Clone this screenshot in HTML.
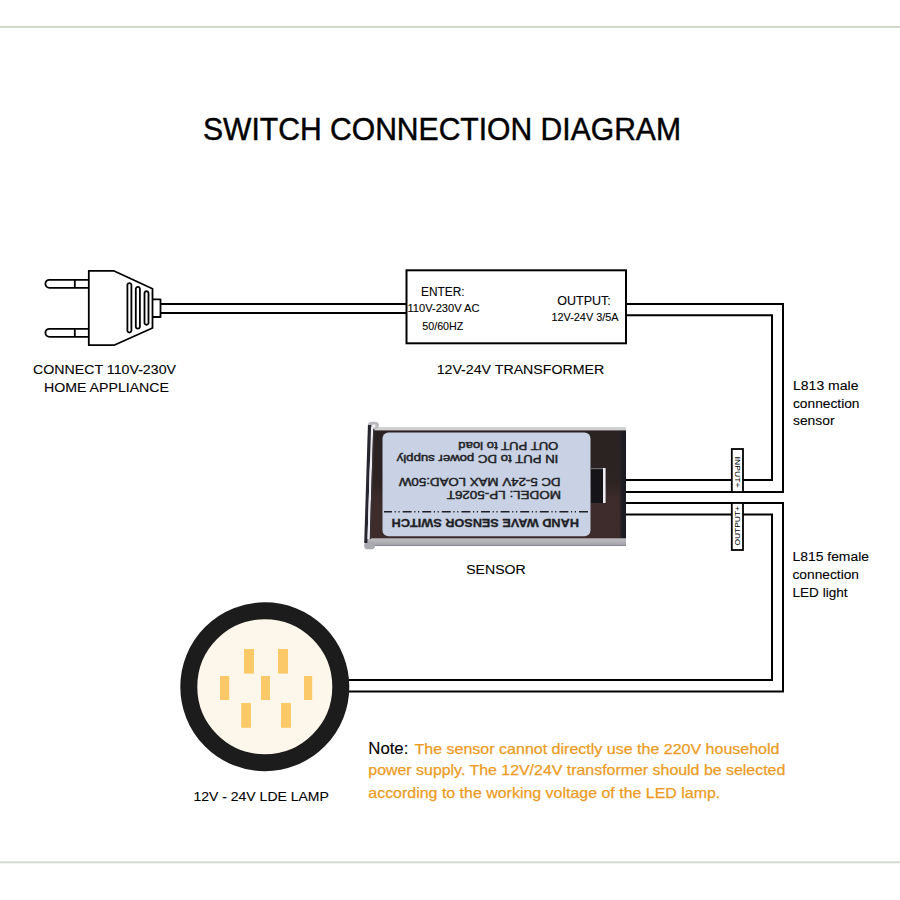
<!DOCTYPE html>
<html><head><meta charset="utf-8">
<style>
html,body{margin:0;padding:0;background:#fff;width:900px;height:900px;overflow:hidden}
svg{display:block}
text{font-family:"Liberation Sans",sans-serif}
.k{stroke:#000;stroke-width:0.1}
</style></head>
<body>
<svg width="900" height="900" viewBox="0 0 900 900">
<defs>
<linearGradient id="capg" x1="0" x2="1" y1="0" y2="0">
<stop offset="0" stop-color="#2a2424"/>
<stop offset="0.35" stop-color="#1c1818"/>
<stop offset="0.5" stop-color="#f4f4f6"/>
<stop offset="0.7" stop-color="#d8d8dc"/>
<stop offset="1" stop-color="#5a4a48"/>
</linearGradient>
<linearGradient id="topg" x1="0" x2="0" y1="0" y2="1">
<stop offset="0" stop-color="#e6e6e6"/>
<stop offset="0.5" stop-color="#b4b4b4"/>
<stop offset="1" stop-color="#3a3434"/>
</linearGradient>
<linearGradient id="botg" x1="0" x2="0" y1="0" y2="1">
<stop offset="0" stop-color="#bcbcc0"/>
<stop offset="0.6" stop-color="#aeaeb4"/>
<stop offset="1" stop-color="#9c9ca4"/>
</linearGradient>
<linearGradient id="bodyg" x1="0" x2="0" y1="0" y2="1">
<stop offset="0" stop-color="#2a2222"/>
<stop offset="0.45" stop-color="#2c2322"/>
<stop offset="0.6" stop-color="#3c2b2a"/>
<stop offset="1" stop-color="#3e2c2b"/>
</linearGradient>
<linearGradient id="rbandg" x1="0" x2="1" y1="0" y2="0">
<stop offset="0" stop-color="#2a2228" stop-opacity="0"/>
<stop offset="0.4" stop-color="#1e1d24"/>
<stop offset="1" stop-color="#1a1a20"/>
</linearGradient>
</defs>

<!-- separators -->
<rect x="0" y="26" width="900" height="2" fill="#cfd9c7"/>
<rect x="0" y="861.3" width="900" height="2" fill="#d3dccf"/>

<!-- title -->
<text class="k" style="stroke-width:0.45" x="203" y="140" font-size="31" textLength="478" lengthAdjust="spacingAndGlyphs" fill="#000">SWITCH CONNECTION DIAGRAM</text>

<!-- plug -->
<g fill="none" stroke="#000" stroke-width="1.8" stroke-linejoin="round">
<path d="M88.8 279.8 H49.4 A4 4 0 0 0 49.4 287.8 H88.8 M74.8 279.8 V287.8"/>
<path d="M88.8 328.8 H49.4 A4 4 0 0 0 49.4 336.8 H88.8 M74.8 328.8 V336.8"/>
<path d="M88.8 270.8 H113.6 L152.5 288.7 V328 L114 345.2 H88.8 Z"/>
<path d="M152.5 299.4 H160.5 V317 H152.5"/>
<path d="M127.4 284.5 A2.1 2.1 0 0 1 131.4 284.5 V331.1 A2.1 2.1 0 0 1 127.4 331.1 Z"/>
<path d="M135.8 288.6 A2.1 2.1 0 0 1 139.9 288.6 V327 A2.1 2.1 0 0 1 135.8 327 Z"/>
<path d="M144.5 292.7 A2.1 2.1 0 0 1 148.5 292.7 V323.3 A2.1 2.1 0 0 1 144.5 323.3 Z"/>
</g>
<!-- cord -->
<rect x="160.5" y="303" width="246" height="2" fill="#000"/>
<rect x="160.5" y="312" width="246" height="2" fill="#000"/>

<text class="k" x="33" y="374" font-size="13.7" textLength="143" lengthAdjust="spacingAndGlyphs">CONNECT 110V-230V</text>
<text class="k" x="44" y="391.7" font-size="13.7" textLength="125" lengthAdjust="spacingAndGlyphs">HOME APPLIANCE</text>

<!-- transformer -->
<rect x="406.5" y="270.3" width="219.5" height="73" fill="none" stroke="#000" stroke-width="2"/>
<text class="k" x="421" y="296" font-size="12" textLength="43.5" lengthAdjust="spacingAndGlyphs">ENTER:</text>
<text class="k" x="407.5" y="312.3" font-size="10.5" textLength="72" lengthAdjust="spacingAndGlyphs">110V-230V AC</text>
<text class="k" x="422.3" y="330" font-size="10.5" textLength="41" lengthAdjust="spacingAndGlyphs">50/60HZ</text>
<text class="k" x="557.3" y="304.5" font-size="12" textLength="53.5" lengthAdjust="spacingAndGlyphs">OUTPUT:</text>
<text class="k" x="551.5" y="321.2" font-size="10.5" textLength="67" lengthAdjust="spacingAndGlyphs">12V-24V 3/5A</text>
<text class="k" x="436.7" y="374" font-size="13.7" textLength="167.5" lengthAdjust="spacingAndGlyphs">12V-24V TRANSFORMER</text>

<!-- output wires upper loop -->
<path d="M626 304 H783 V492 H626" fill="none" stroke="#000" stroke-width="2"/>
<path d="M626 315.3 H772 V480 H626" fill="none" stroke="#000" stroke-width="2"/>
<!-- lower loop -->
<path d="M626 503 H783 V691.5 H349" fill="none" stroke="#000" stroke-width="2"/>
<path d="M626 514.5 H772 V680 H349" fill="none" stroke="#000" stroke-width="2"/>

<!-- input label -->
<rect x="731.8" y="449" width="11.2" height="43" fill="#fff" stroke="#000" stroke-width="1.8"/>
<text transform="translate(734.6 456.5) rotate(90)" font-size="8" stroke="#000" stroke-width="0.05" textLength="31" lengthAdjust="spacingAndGlyphs">INPUT+</text>
<!-- output label -->
<rect x="731.8" y="503" width="11.2" height="47" fill="#fff" stroke="#000" stroke-width="1.8"/>
<text transform="translate(740.2 545.5) rotate(-90)" font-size="8" stroke="#000" stroke-width="0.05" textLength="39.5" lengthAdjust="spacingAndGlyphs">OUTPUT+</text>

<text class="k" x="793" y="390" font-size="13.7" textLength="65.5" lengthAdjust="spacingAndGlyphs">L813 male</text>
<text class="k" x="793" y="407.8" font-size="13.7" textLength="66.5" lengthAdjust="spacingAndGlyphs">connection</text>
<text class="k" x="793" y="425.2" font-size="13.7" textLength="41.5" lengthAdjust="spacingAndGlyphs">sensor</text>

<text class="k" x="792.5" y="561.3" font-size="13.7" textLength="76.5" lengthAdjust="spacingAndGlyphs">L815 female</text>
<text class="k" x="792.5" y="578.9" font-size="13.7" textLength="66.5" lengthAdjust="spacingAndGlyphs">connection</text>
<text class="k" x="792.5" y="596.7" font-size="13.7" textLength="55" lengthAdjust="spacingAndGlyphs">LED light</text>

<!-- sensor -->
<g>
<rect x="370" y="427.8" width="256" height="118" fill="url(#bodyg)"/>
<rect x="370" y="427.8" width="256" height="2.6" fill="#cfd0d0"/>
<rect x="366" y="538.3" width="260" height="7.4" fill="url(#botg)"/>
<rect x="619" y="431" width="7" height="107" fill="url(#rbandg)"/>
<rect x="382.5" y="432.4" width="208" height="103.9" rx="6" fill="#c8d2e4"/>
<rect x="591" y="468" width="12" height="35" fill="#141419"/>
<rect x="591" y="468" width="12" height="1.2" fill="#6a6a70"/>
<rect x="603" y="468" width="2.6" height="35" fill="#ececf2"/>
<g transform="matrix(1 0 -0.0315 1 13.3 0)">
<rect x="368" y="421.7" width="11" height="7" rx="4" fill="#b9b9bd"/>
<rect x="372.5" y="424.5" width="3" height="3" fill="#f4f4f6"/>
<rect x="368" y="541.5" width="11" height="7.8" rx="4" fill="#a9a9b0"/>
<rect x="368" y="425" width="3.2" height="118" fill="#26262f"/>
<rect x="371.2" y="427" width="2.2" height="112" fill="#ececf2"/>
<rect x="373.4" y="429" width="1.3" height="110" fill="#3a3438"/>
</g>
</g>
<g transform="rotate(180 486 484.5)" fill="#1f1f26" stroke="#1f1f26" stroke-width="0.45">
<text x="413.7" y="526.8" font-size="11" textLength="100" lengthAdjust="spacingAndGlyphs">OUT PUT to load</text>
<text x="413.7" y="514" font-size="11" textLength="161.6" lengthAdjust="spacingAndGlyphs">IN PUT to DC power supply</text>
<text x="411.4" y="491.2" font-size="11" textLength="161.7" lengthAdjust="spacingAndGlyphs">DC 5-24V  MAX LOAD:50W</text>
<text x="411.1" y="478.4" font-size="11" textLength="114.2" lengthAdjust="spacingAndGlyphs">MODEL: LP-5026T</text>
<text x="393.1" y="450.1" font-size="11" font-weight="bold" stroke-width="0.3" textLength="187.2" lengthAdjust="spacingAndGlyphs">HAND WAVE SENSOR SWITCH</text>
<line x1="384" y1="457.3" x2="588" y2="457.3" stroke="#1f1f26" stroke-width="1.6" stroke-dasharray="9 3 1.2 2.6 1.2 2.6"/>
</g>
<text class="k" x="466.2" y="574" font-size="13.7" textLength="59.5" lengthAdjust="spacingAndGlyphs">SENSOR</text>

<!-- lamp -->
<circle cx="264.8" cy="686.8" r="76" fill="#fdf6ea" stroke="#1c1c1c" stroke-width="17"/>
<g fill="#fbc968">
<rect x="244" y="649" width="10" height="24.6"/>
<rect x="278" y="649" width="10" height="24.6"/>
<rect x="220" y="676" width="9.2" height="24"/>
<rect x="261" y="676" width="9" height="24"/>
<rect x="304" y="676" width="8.2" height="24"/>
<rect x="241.2" y="703" width="9.8" height="24.8"/>
<rect x="281" y="703" width="10" height="24.8"/>
</g>
<text class="k" x="193.4" y="801.3" font-size="13.7" textLength="135.5" lengthAdjust="spacingAndGlyphs">12V - 24V LDE LAMP</text>

<!-- note -->
<text class="k" x="368.3" y="754.4" font-size="16.5" textLength="40" lengthAdjust="spacingAndGlyphs" fill="#000">Note:</text>
<g fill="#ec9b22" stroke="#ec9b22" stroke-width="0.25" font-size="14.5">
<text x="414.5" y="754.4" textLength="365" lengthAdjust="spacingAndGlyphs">The sensor cannot directly use the 220V household</text>
<text x="368.3" y="775" textLength="417" lengthAdjust="spacingAndGlyphs">power supply. The 12V/24V transformer should be selected</text>
<text x="368.3" y="797.7" textLength="352" lengthAdjust="spacingAndGlyphs">according to the working voltage of the LED lamp.</text>
</g>
</svg>
</body></html>
